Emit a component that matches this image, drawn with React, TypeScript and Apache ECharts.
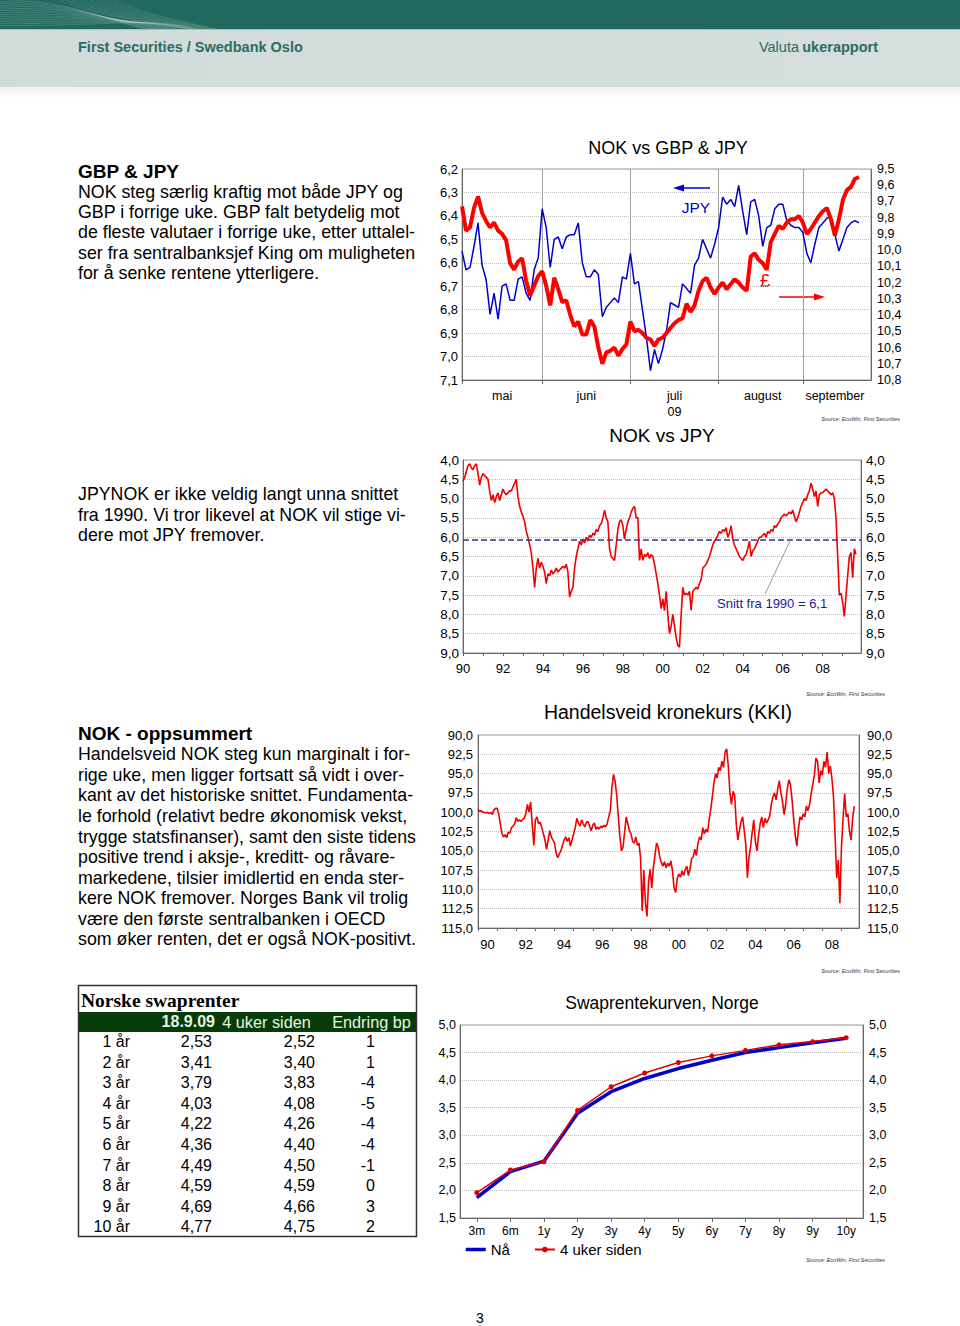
import React, { useEffect, useRef } from "react";
import * as echarts from "echarts";

const FONT = "'Liberation Sans', Arial, Helvetica, sans-serif";

// ---------- Chart 1: NOK vs GBP & JPY (daily, mai - september 2009) ----------
const monthNames = ["mai", "juni", "juli", "august", "september"];
const monthLabelIdx = [10, 31, 53, 75, 93];
const monthBounds = [0, 20, 42, 64, 85];
const dayCount = 103;
const jpyDaily = [
  6.55, 6.63, 6.62, 6.53, 6.43, 6.61, 6.67, 6.82, 6.73, 6.84,
  6.70, 6.69, 6.76, 6.76, 6.67, 6.66, 6.73, 6.76, 6.63, 6.58,
  6.37, 6.45, 6.62, 6.50, 6.49, 6.54, 6.49, 6.48, 6.48, 6.43,
  6.60, 6.66, 6.66, 6.63, 6.65, 6.83, 6.79, 6.77, 6.75, 6.77,
  6.66, 6.67, 6.56, 6.69, 6.68, 6.80, 6.92, 7.06, 6.97, 7.03,
  6.97, 6.89, 6.77, 6.78, 6.79, 6.69, 6.71, 6.73, 6.61, 6.58,
  6.50, 6.54, 6.58, 6.52, 6.45, 6.32, 6.35, 6.33, 6.36, 6.27,
  6.38, 6.48, 6.34, 6.33, 6.40, 6.53, 6.45, 6.44, 6.37, 6.35,
  6.35, 6.42, 6.44, 6.45, 6.45, 6.47, 6.56, 6.60, 6.52, 6.45,
  6.43, 6.41, 6.40, 6.48, 6.55, 6.50, 6.45, 6.43, 6.42, 6.43,
];
const gbpDaily = [
  9.73, 9.88, 9.86, 9.74, 9.67, 9.77, 9.82, 9.86, 9.83, 9.88,
  9.90, 9.94, 10.08, 10.12, 10.07, 10.05, 10.19, 10.28, 10.22, 10.16,
  10.13, 10.22, 10.34, 10.17, 10.24, 10.32, 10.31, 10.40, 10.47, 10.44,
  10.52, 10.52, 10.43, 10.47, 10.60, 10.70, 10.63, 10.62, 10.60, 10.65,
  10.61, 10.58, 10.44, 10.50, 10.49, 10.51, 10.54, 10.55, 10.59, 10.55,
  10.54, 10.51, 10.48, 10.45, 10.43, 10.42, 10.33, 10.38, 10.34, 10.25,
  10.19, 10.17, 10.23, 10.27, 10.23, 10.20, 10.24, 10.21, 10.18, 10.20,
  10.23, 10.25, 10.04, 10.02, 10.06, 10.08, 10.12, 9.95, 9.90, 9.85,
  9.87, 9.83, 9.81, 9.81, 9.79, 9.83, 9.90, 9.87, 9.83, 9.79,
  9.76, 9.74, 9.81, 9.91, 9.81, 9.69, 9.63, 9.61, 9.56, 9.55,
];

// ---------- Chart 2: NOK vs JPY (monthly 1990 - sep 2009) ----------
const yearLabels = ["90", "92", "94", "96", "98", "00", "02", "04", "06", "08"];
const monthSlots = 240;
const jpyMonthly = [
  4.55, 4.45, 4.3, 4.15, 4.1, 4.2, 4.25, 4.15, 4.1, 4.35, 4.65, 4.45,
  4.35, 4.4, 4.45, 4.5, 4.8, 5.05, 4.9, 5.1, 4.95, 4.85, 5.05, 4.9,
  4.75, 4.85, 4.9, 4.85, 4.8, 4.8, 4.7, 4.6, 4.5, 4.95, 5.2, 5.35,
  5.45, 5.6, 5.85, 6.0, 6.2, 6.4, 6.8, 7.3, 6.8, 6.55, 6.8, 6.65,
  6.75, 6.9, 7.2, 6.95, 7.0, 6.85, 6.95, 6.9, 6.8, 6.9, 6.85, 6.8,
  6.75, 6.8, 6.7, 6.9, 7.55, 7.4, 7.3, 6.8, 6.5, 6.3, 6.1, 6.2,
  6.05, 6.15, 6.0, 6.1, 5.95, 6.0, 5.9, 5.95, 5.8, 5.85, 5.7, 5.65,
  5.5, 5.3, 5.5, 5.6, 6.3, 6.5, 6.55, 6.6, 6.2, 5.8, 5.6, 5.55,
  5.7, 6.05, 5.8, 5.6, 5.5, 5.35, 5.25, 5.2, 5.5, 5.5, 6.6, 6.3,
  6.6, 6.45, 6.5, 6.4, 6.55, 6.45, 6.5, 6.7, 6.95, 7.2, 7.5, 7.85,
  7.6, 7.9, 7.4, 8.0, 8.5, 8.3, 8.0, 8.3, 8.6, 8.8, 8.85, 8.0,
  7.3, 7.5, 7.45, 7.5, 7.4, 7.9, 7.4, 7.35, 7.3, 7.35, 7.2, 7.1,
  6.8, 6.75, 6.7, 6.6, 6.5, 6.35, 6.2, 6.1, 6.05, 5.95, 5.85, 5.9,
  5.8, 5.85, 5.75, 6.0, 5.9, 5.7, 6.05, 6.2, 6.3, 6.4, 6.5, 6.55,
  6.6, 6.5, 6.45, 6.3, 6.1, 6.5, 6.35, 6.3, 6.2, 6.1, 6.0, 6.0,
  5.95, 5.9, 6.0, 5.85, 5.9, 5.8, 5.85, 5.7, 5.75, 5.65, 5.6, 5.5,
  5.45, 5.4, 5.45, 5.4, 5.35, 5.4, 5.3, 5.45, 5.6, 5.5, 5.35, 5.2,
  5.1, 5.0, 5.05, 4.9, 4.8, 4.6, 4.75, 4.95, 4.8, 5.2, 4.9, 4.85,
  4.85, 4.8, 4.75, 4.8, 4.85, 4.9, 4.85, 5.0, 5.5, 6.5, 7.5, 7.45,
  7.7, 8.05, 7.5, 7.0, 6.5, 6.4, 7.05, 6.3, 6.45,
];
const avgSince1990 = 6.07;

// ---------- Chart 3: Handelsveid kronekurs (KKI) ----------
const kkiMonthly = [
  99.6, 99.9, 99.8, 100.0, 100.0, 100.1, 100.0, 100.2, 100.0, 100.3, 99.7, 99.5,
  99.5, 100.2, 101.5, 102.7, 103.2, 102.9, 103.3, 102.6, 102.7, 102.0, 101.8, 101.5,
  100.7, 101.2, 101.0, 101.2, 100.9, 100.8, 100.2, 99.0, 100.0, 98.7, 101.5, 104.3,
  101.0, 100.6, 101.5, 101.3, 102.0, 102.8, 103.6, 104.8, 103.6, 102.4, 103.2, 103.6,
  104.0, 105.3, 105.9, 105.4, 105.0, 104.3, 103.6, 103.2, 103.8, 103.3, 104.4, 103.6,
  102.8, 102.0, 100.8, 101.4, 101.8, 101.0, 101.5, 101.9, 101.3, 101.2, 101.8, 102.4,
  101.7, 101.4, 102.2, 101.9, 102.2, 101.8, 102.0, 101.7, 101.9, 101.5, 100.6, 99.8,
  96.8, 95.1, 96.0, 97.8, 100.5, 103.2, 105.0, 104.5, 102.5, 100.6, 101.5, 102.4,
  102.8, 103.8, 104.0, 103.2, 104.3, 104.0, 106.0, 112.8, 107.5, 111.6, 113.5, 109.0,
  107.4, 109.8, 107.2, 105.6, 104.0, 104.5, 105.8, 106.5, 107.0, 106.4, 107.2, 106.6,
  107.0, 106.3, 107.6, 109.8, 110.4, 108.6, 108.0, 108.4, 107.6, 108.2, 107.4, 107.0,
  108.2, 107.4, 106.0, 105.8, 104.8, 105.6, 104.0, 103.2, 103.6, 102.0, 102.8, 102.2,
  102.6, 101.0, 99.6, 98.0, 96.2, 95.0, 95.6, 94.2, 94.6, 93.4, 94.2, 92.2,
  91.8, 94.0, 97.4, 99.0, 97.3, 97.8, 101.5, 103.6, 102.4, 101.2, 100.6, 102.4,
  104.2, 108.5, 105.8, 104.4, 102.6, 101.0, 103.8, 105.0, 103.0, 101.5, 100.6, 102.0,
  100.8, 101.4, 101.0, 100.5, 99.0, 98.0, 97.5, 98.4, 97.0, 95.9, 97.5, 98.6,
  100.3, 99.0, 97.0, 95.8, 96.4, 98.4, 100.8, 103.0, 104.4, 102.2, 100.6, 101.0,
  100.2, 100.6, 99.2, 99.8, 99.0, 97.6, 96.4, 95.2, 93.0, 93.4, 96.2, 94.6,
  95.2, 93.4, 94.2, 92.2, 95.0, 94.0, 95.6, 98.0, 103.0, 108.5, 106.2, 111.8,
  104.5, 100.8, 97.6, 100.6, 100.2, 102.4, 103.6, 100.8, 99.2,
];

// ---------- Chart 4: Swaprentekurven, Norge ----------
const tenors = ["3m", "6m", "1y", "2y", "3y", "4y", "5y", "6y", "7y", "8y", "9y", "10y"];
const swapNow = [1.87, 2.34, 2.53, 3.40, 3.79, 4.03, 4.21, 4.36, 4.50, 4.59, 4.68, 4.76];
const swap4w = [1.96, 2.37, 2.52, 3.45, 3.88, 4.13, 4.32, 4.44, 4.54, 4.64, 4.70, 4.77];

// ---------- Table: Norske swaprenter ----------
const tableTenors = ["1 år", "2 år", "3 år", "4 år", "5 år", "6 år", "7 år", "8 år", "9 år", "10 år"];
const tableNow = [2.53, 3.41, 3.79, 4.03, 4.22, 4.36, 4.49, 4.59, 4.69, 4.77];
const tablePrev = [2.52, 3.40, 3.83, 4.08, 4.26, 4.40, 4.50, 4.59, 4.66, 4.75];
const tableChange = [1, 1, -4, -5, -4, -4, -1, 0, 3, 2];

// ---------- Text ----------
const block1Title = "GBP & JPY";
const block1 = [
  "NOK steg særlig kraftig mot både JPY og",
  "GBP i forrige uke. GBP falt betydelig mot",
  "de fleste valutaer i forrige uke, etter uttalel-",
  "ser fra sentralbanksjef King om muligheten",
  "for å senke rentene ytterligere.",
];
const block2 = [
  "JPYNOK er ikke veldig langt unna snittet",
  "fra 1990. Vi tror likevel at NOK vil stige vi-",
  "dere mot JPY fremover.",
];
const block3Title = "NOK - oppsummert";
const block3 = [
  "Handelsveid NOK steg kun marginalt i for-",
  "rige uke, men ligger fortsatt så vidt i over-",
  "kant av det historiske snittet. Fundamenta-",
  "le forhold (relativt bedre økonomisk vekst,",
  "trygge statsfinanser), samt den siste tidens",
  "positive trend i aksje-, kreditt- og råvare-",
  "markedene, tilsier imidlertid en enda ster-",
  "kere NOK fremover. Norges Bank vil trolig",
  "være den første sentralbanken i OECD",
  "som øker renten, det er også NOK-positivt.",
];

const fmt1 = (v: number) => v.toFixed(1).replace(".", ",");
const fmt2 = (v: number) => v.toFixed(2).replace(".", ",");

function txt(text: string, x: number, y: number, o: any = {}) {
  return {
    type: "text",
    x,
    y,
    silent: true,
    style: {
      text,
      fontSize: 13,
      fontFamily: FONT,
      fill: "#000",
      textAlign: "left",
      textVerticalAlign: "middle",
      ...o,
    },
  };
}

function buildOption(): any {
  const dayCats = Array.from({ length: dayCount }, (_, i) => "d" + i);
  const monthCats = Array.from({ length: monthSlots }, (_, i) => `${1990 + Math.floor(i / 12)}-${(i % 12) + 1}`);

  const gridBase = { show: true, borderColor: "#9a9a9a", borderWidth: 1, outerBoundsMode: "none", containLabel: false };
  const axisLineStyle = { show: true, lineStyle: { color: "#666", width: 1 } };
  const labelBase = { color: "#000", fontFamily: FONT, fontSize: 13 };
  const dotted = { show: true, lineStyle: { color: "#bdbdbd", type: "dotted", width: 1 } };

  const graphic: any[] = [];

  // header
  graphic.push({ type: "rect", silent: true, shape: { x: 0, y: 0, width: 960, height: 29 }, style: { fill: "#21695f" } });
  for (let k = 0; k < 14; k++) {
    graphic.push({
      type: "bezierCurve",
      silent: true,
      shape: { x1: 0, y1: 2 + k * 1.8, cpx1: 60 + k * 3, cpy1: -6 + k * 2.5, cpx2: 130 + k * 2, cpy2: 30 - k, x2: 150 + k * 3.5, y2: 29 },
      style: { stroke: "rgba(255,255,255,0.15)", lineWidth: 1, fill: "none" },
    });
  }
  for (let k = 0; k < 10; k++) {
    graphic.push({
      type: "bezierCurve",
      silent: true,
      shape: { x1: 60 + k * 6, y1: 0, cpx1: 90 + k * 6, cpy1: 14, cpx2: 140 + k * 5, cpy2: 22, x2: 190 + k * 3, y2: 29 },
      style: { stroke: "rgba(255,255,255,0.12)", lineWidth: 1, fill: "none" },
    });
  }
  graphic.push({ type: "rect", silent: true, shape: { x: 0, y: 29, width: 960, height: 1 }, style: { fill: "#a8c0bc" } });
  graphic.push({
    type: "rect",
    silent: true,
    shape: { x: 0, y: 30, width: 960, height: 57 },
    style: {
      fill: new echarts.graphic.LinearGradient(0, 0, 1, 0, [
        { offset: 0, color: "#d0dbda" },
        { offset: 1, color: "#d6dfde" },
      ]),
    },
  });
  graphic.push({
    type: "rect",
    silent: true,
    shape: { x: 0, y: 87, width: 960, height: 12 },
    style: {
      fill: new echarts.graphic.LinearGradient(0, 0, 0, 1, [
        { offset: 0, color: "#eef2f2" },
        { offset: 1, color: "#ffffff" },
      ]),
    },
  });
  graphic.push(txt("First Securities / Swedbank Oslo", 78, 47, { fontSize: 14.5, fontWeight: "bold", fill: "#2c6b63" }));
  graphic.push(txt("ukerapport", 878, 47, { fontSize: 14.5, fontWeight: "bold", fill: "#2c6b63", textAlign: "right" }));
  graphic.push(txt("Valuta", 799, 47, { fontSize: 14.5, fill: "#2c6b63", textAlign: "right" }));

  // left text blocks
  graphic.push(txt(block1Title, 78, 171, { fontSize: 19, fontWeight: "bold" }));
  block1.forEach((l, i) => graphic.push(txt(l, 78, 191.7 + i * 20.3, { fontSize: 17.8 })));
  block2.forEach((l, i) => graphic.push(txt(l, 78, 494.3 + i * 20.4, { fontSize: 17.8 })));
  graphic.push(txt(block3Title, 78, 733, { fontSize: 19, fontWeight: "bold" }));
  block3.forEach((l, i) => graphic.push(txt(l, 78, 754.3 + i * 20.55, { fontSize: 17.8 })));

  // chart titles
  graphic.push(txt("NOK vs GBP & JPY", 668, 148, { fontSize: 18, textAlign: "center" }));
  graphic.push(txt("NOK vs JPY", 662, 435, { fontSize: 19, textAlign: "center" }));
  graphic.push(txt("Handelsveid kronekurs (KKI)", 668, 712, { fontSize: 19.5, textAlign: "center" }));
  graphic.push(txt("Swaprentekurven, Norge", 662, 1003, { fontSize: 17.5, textAlign: "center" }));

  // sources
  const src = "Source: EcoWin, First Securities";
  [
    [900, 419],
    [885, 694],
    [900, 971],
    [885, 1260],
  ].forEach(([x, y]) => graphic.push(txt(src, x, y, { fontSize: 5.5, fontStyle: "italic", fill: "#333", textAlign: "right" })));

  // chart 1 annotations
  graphic.push({ type: "line", silent: true, shape: { x1: 710, y1: 188, x2: 682, y2: 188 }, style: { stroke: "#0000cc", lineWidth: 1.5 } });
  graphic.push({ type: "polygon", silent: true, shape: { points: [[673, 188], [684, 184.5], [684, 191.5]] }, style: { fill: "#0000cc" } });
  graphic.push(txt("JPY", 696, 207, { fontSize: 15.5, fill: "#0000cc", textAlign: "center" }));
  graphic.push({ type: "line", silent: true, shape: { x1: 779, y1: 297, x2: 816, y2: 297 }, style: { stroke: "#ff0000", lineWidth: 1.5 } });
  graphic.push({ type: "polygon", silent: true, shape: { points: [[825, 297], [814, 293.5], [814, 300.5]] }, style: { fill: "#ff0000" } });
  graphic.push(txt("£", 765, 280, { fontSize: 19, fill: "#ff0000", textAlign: "center" }));

  // chart 2 annotation
  graphic.push({ type: "line", silent: true, shape: { x1: 765, y1: 594, x2: 790, y2: 541 }, style: { stroke: "#9a9a9a", lineWidth: 1 } });
  graphic.push(txt("Snitt fra 1990 = 6,1", 717, 603, { fontSize: 13, fill: "#1a1a99" }));

  // table
  graphic.push({ type: "rect", silent: true, shape: { x: 78.5, y: 985.5, width: 338, height: 251 }, style: { fill: "none", stroke: "#333", lineWidth: 1.5 } });
  graphic.push({ type: "rect", silent: true, shape: { x: 79, y: 1012, width: 337, height: 20 }, style: { fill: "#073b07" } });
  graphic.push(txt("Norske swaprenter", 81, 1000.5, { fontSize: 19.5, fontWeight: "bold", fontFamily: "'Liberation Serif', 'Times New Roman', serif" }));
  graphic.push(txt("18.9.09", 215, 1021.7, { fontSize: 16, fontWeight: "bold", fill: "#e4f5e4", textAlign: "right" }));
  graphic.push(txt("4 uker siden", 266.5, 1021.7, { fontSize: 16.3, fill: "#e4f5e4", textAlign: "center" }));
  graphic.push(txt("Endring bp", 371.5, 1021.7, { fontSize: 16.3, fill: "#e4f5e4", textAlign: "center" }));
  tableTenors.forEach((t, i) => {
    const y = 1041.7 + i * 20.55;
    graphic.push(txt(t, 130, y, { fontSize: 16, textAlign: "right" }));
    graphic.push(txt(fmt2(tableNow[i]), 212, y, { fontSize: 16, textAlign: "right" }));
    graphic.push(txt(fmt2(tablePrev[i]), 315, y, { fontSize: 16, textAlign: "right" }));
    graphic.push(txt(String(tableChange[i]), 375, y, { fontSize: 16, textAlign: "right" }));
  });

  // page number
  graphic.push(txt("3", 480, 1318, { fontSize: 14, textAlign: "center" }));

  return {
    animation: false,
    backgroundColor: "#ffffff",
    textStyle: { fontFamily: FONT },
    grid: [
      { ...gridBase, left: 462, top: 169, width: 409, height: 211 },
      { ...gridBase, left: 463, top: 460, width: 398, height: 193 },
      { ...gridBase, left: 478, top: 735, width: 381, height: 193 },
      { ...gridBase, left: 460, top: 1025, width: 403, height: 193 },
    ],
    legend: {
      data: [
        { name: "Nå", itemStyle: { opacity: 0 }, lineStyle: { width: 3.5 } },
        { name: "4 uker siden" },
      ],
      left: 459,
      top: 1237,
      itemWidth: 20,
      itemHeight: 7,
      itemGap: 24,
      textStyle: { fontSize: 15, fontFamily: FONT, color: "#000" },
    },
    xAxis: [
      {
        type: "category",
        gridIndex: 0,
        data: dayCats,
        boundaryGap: false,
        axisLine: axisLineStyle,
        axisTick: { show: true, length: 4, interval: (i: number) => monthBounds.includes(i), lineStyle: { color: "#666" } },
        splitLine: { show: true, interval: (i: number) => monthBounds.includes(i), lineStyle: { color: "#a0a0a0", width: 1 } },
        axisLabel: {
          ...labelBase,
          fontSize: 12.5,
          margin: 8,
          lineHeight: 16,
          interval: (i: number) => monthLabelIdx.includes(i),
          formatter: (_v: string, i: number) => {
            const k = monthLabelIdx.indexOf(i);
            if (k < 0) return "";
            return k === 2 ? monthNames[k] + "\n09" : monthNames[k];
          },
        },
      },
      {
        type: "category",
        gridIndex: 1,
        data: monthCats,
        boundaryGap: false,
        axisLine: axisLineStyle,
        axisTick: { show: true, length: 3, interval: (i: number) => i % 12 === 0, lineStyle: { color: "#666" } },
        splitLine: { show: false },
        axisLabel: {
          ...labelBase,
          margin: 9,
          interval: (i: number) => i % 24 === 0,
          formatter: (_v: string, i: number) => (i % 24 === 0 ? yearLabels[i / 24] || "" : ""),
        },
      },
      {
        type: "category",
        gridIndex: 2,
        data: monthCats,
        boundaryGap: false,
        axisLine: axisLineStyle,
        axisTick: { show: true, length: 3, interval: (i: number) => i % 12 === 0, lineStyle: { color: "#666" } },
        splitLine: { show: false },
        axisLabel: {
          ...labelBase,
          margin: 10,
          interval: (i: number) => i % 24 === 6,
          formatter: (_v: string, i: number) => (i % 24 === 6 ? yearLabels[(i - 6) / 24] || "" : ""),
        },
      },
      {
        type: "category",
        gridIndex: 3,
        data: tenors,
        boundaryGap: true,
        axisLine: axisLineStyle,
        axisTick: { show: true, length: 4, alignWithLabel: true, lineStyle: { color: "#666" } },
        splitLine: { show: false },
        axisLabel: { ...labelBase, fontSize: 12, margin: 7, interval: 0 },
      },
    ],
    yAxis: [
      {
        type: "value", gridIndex: 0, position: "left", inverse: true, min: 6.2, max: 7.1, interval: 0.1,
        axisLine: axisLineStyle, axisTick: { show: false }, splitLine: dotted,
        axisLabel: { ...labelBase, margin: 4, formatter: fmt1 },
      },
      {
        type: "value", gridIndex: 0, position: "right", inverse: true, min: 9.5, max: 10.8, interval: 0.1,
        axisLine: axisLineStyle, axisTick: { show: false }, splitLine: { show: false },
        axisLabel: { ...labelBase, fontSize: 12.5, margin: 6, formatter: fmt1 },
      },
      {
        type: "value", gridIndex: 1, position: "left", inverse: true, min: 4, max: 9, interval: 0.5,
        axisLine: axisLineStyle, axisTick: { show: false }, splitLine: dotted,
        axisLabel: { ...labelBase, fontSize: 13.5, margin: 4, formatter: fmt1 },
      },
      {
        type: "value", gridIndex: 1, position: "right", inverse: true, min: 4, max: 9, interval: 0.5,
        axisLine: axisLineStyle, axisTick: { show: false }, splitLine: { show: false },
        axisLabel: { ...labelBase, fontSize: 13.5, margin: 5, formatter: fmt1 },
      },
      {
        type: "value", gridIndex: 2, position: "left", inverse: true, min: 90, max: 115, interval: 2.5,
        axisLine: axisLineStyle, axisTick: { show: false }, splitLine: dotted,
        axisLabel: { ...labelBase, margin: 5, formatter: fmt1 },
      },
      {
        type: "value", gridIndex: 2, position: "right", inverse: true, min: 90, max: 115, interval: 2.5,
        axisLine: axisLineStyle, axisTick: { show: false }, splitLine: { show: false },
        axisLabel: { ...labelBase, margin: 8, formatter: fmt1 },
      },
      {
        type: "value", gridIndex: 3, position: "left", min: 1.5, max: 5, interval: 0.5,
        axisLine: axisLineStyle, axisTick: { show: false }, splitLine: dotted,
        axisLabel: { ...labelBase, fontSize: 12.5, margin: 4, formatter: fmt1 },
      },
      {
        type: "value", gridIndex: 3, position: "right", min: 1.5, max: 5, interval: 0.5,
        axisLine: axisLineStyle, axisTick: { show: false }, splitLine: { show: false },
        axisLabel: { ...labelBase, fontSize: 12.5, margin: 6, formatter: fmt1 },
      },
    ],
    series: [
      {
        name: "JPY", type: "line", xAxisIndex: 0, yAxisIndex: 0, data: jpyDaily,
        showSymbol: false, symbol: "none", lineStyle: { color: "#0000cc", width: 1.5 }, itemStyle: { color: "#0000cc" },
      },
      {
        name: "GBP", type: "line", xAxisIndex: 0, yAxisIndex: 1, data: gbpDaily,
        showSymbol: false, symbol: "none", lineStyle: { color: "#ff0000", width: 4 }, itemStyle: { color: "#ff0000" },
      },
      {
        name: "NOK vs JPY", type: "line", xAxisIndex: 1, yAxisIndex: 2, data: jpyMonthly,
        showSymbol: false, symbol: "none", lineStyle: { color: "#f00000", width: 1.6 }, itemStyle: { color: "#f00000" },
        markLine: {
          silent: true, symbol: "none", label: { show: false },
          lineStyle: { color: "#34349c", type: "dashed", width: 1.5 },
          data: [{ yAxis: avgSince1990 }],
        },
      },
      {
        name: "KKI", type: "line", xAxisIndex: 2, yAxisIndex: 4, data: kkiMonthly,
        showSymbol: false, symbol: "none", lineStyle: { color: "#f00000", width: 1.6 }, itemStyle: { color: "#f00000" },
      },
      {
        name: "Nå", type: "line", xAxisIndex: 3, yAxisIndex: 6, data: swapNow,
        showSymbol: false, symbol: "none", lineStyle: { color: "#0000cc", width: 3.5 }, itemStyle: { color: "#0000cc" },
      },
      {
        name: "4 uker siden", type: "line", xAxisIndex: 3, yAxisIndex: 6, data: swap4w,
        symbol: "circle", symbolSize: 5, showSymbol: true,
        lineStyle: { color: "#e00000", width: 1.5 }, itemStyle: { color: "#e00000" },
      },
    ],
    graphic,
  };
}

export default function App() {
  const ref = useRef<HTMLDivElement>(null);
  useEffect(() => {
    if (!ref.current) return;
    const chart = echarts.init(ref.current, null, { renderer: "svg", width: 960, height: 1326 });
    chart.setOption(buildOption());
    return () => chart.dispose();
  }, []);
  return (
    <div
      ref={ref}
      style={{ position: "absolute", left: 0, top: 0, width: 960, height: 1326, background: "#fff" }}
    />
  );
}
